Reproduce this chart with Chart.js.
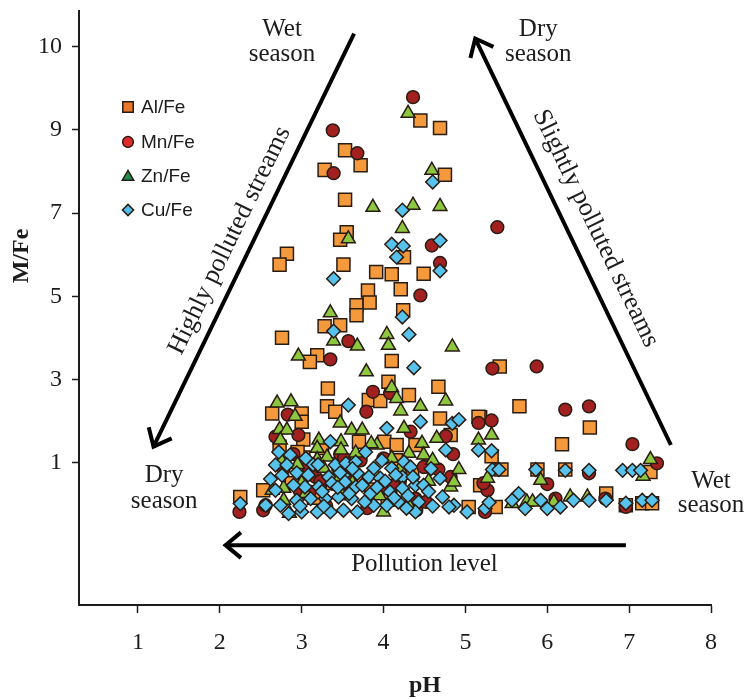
<!DOCTYPE html>
<html>
<head>
<meta charset="utf-8">
<script src="https://cdn.jsdelivr.net/npm/chart.js@4.4.1/dist/chart.umd.min.js"></script>
<style>
  html, body { margin: 0; padding: 0; background: #ffffff; }
  #wrap { width: 750px; height: 699px; }
</style>
</head>
<body>
<div id="wrap"><canvas id="chart" width="750" height="699"></canvas></div>
<script>
// Series names shown in the legend
const seriesNames = ['Al/Fe', 'Mn/Fe', 'Zn/Fe', 'Cu/Fe'];

// Samples as [pH, ratio] pairs
const alFe = [
  [4.45,9.23],[4.69,9.05],[3.53,8.51],[3.72,8.15],[3.28,8.04],[4.75,7.92],[3.53,7.32],[3.55,6.54],
  [3.47,6.36],[4.25,5.94],[2.82,6.02],[2.73,5.76],[3.51,5.76],[3.91,5.58],[4.10,5.53],[4.49,5.54],
  [3.81,5.14],[4.21,5.17],[3.67,4.78],[3.83,4.85],[3.67,4.54],[4.24,4.66],[3.28,4.28],[3.47,4.30],
  [2.76,4.00],[3.19,3.58],[3.10,3.42],[4.10,3.44],[5.42,3.31],[3.32,2.78],[4.06,2.94],[4.67,2.82],
  [4.31,2.62],[5.66,2.35],[6.52,1.84],[6.18,1.44],[5.18,2.09],[5.44,0.83],[5.88,0.83],[6.22,0.83],
  [7.26,0.77],[6.72,0.25],[6.96,-0.03],[7.16,0.02],[7.28,0.02],[3.31,2.35],[3.41,2.22],[2.64,2.18],
  [3.00,2.18],[3.00,1.98],[3.02,1.55],[2.73,1.38],[3.70,1.50],[3.02,1.12],[2.53,0.33],[2.25,0.17],
  [3.82,2.50],[3.96,2.48],[4.69,2.06],[4.82,1.66],[4.01,1.50],[4.16,1.42],[4.39,1.42],[5.16,2.10],
  [5.32,1.15],[5.18,0.45],[5.04,-0.07],[5.37,-0.07],[3.45,0.95],[3.75,0.55],[4.05,0.10],[4.35,0.75],
  [2.88,0.50],[3.15,0.15],[2.95,1.25],[3.38,0.50],[3.85,0.35],[4.15,1.05],[4.55,0.90],[3.25,1.35]
];
const mnFe = [
  [4.36,9.79],[3.38,8.99],[3.68,8.44],[3.39,7.96],[5.39,6.66],[4.59,6.22],[4.69,5.80],[4.45,5.02],
  [3.57,3.92],[3.35,3.48],[5.33,3.26],[5.87,3.31],[6.22,2.27],[6.51,2.35],[7.04,1.44],[5.32,2.01],
  [7.34,0.98],[6.51,0.74],[6.00,0.48],[5.27,0.33],[6.71,0.13],[6.96,-0.07],[3.87,2.70],[4.08,2.67],
  [2.83,2.15],[2.68,1.62],[2.96,1.66],[3.47,1.20],[3.52,1.10],[3.08,0.89],[3.17,0.65],[2.53,-0.15],
  [2.24,-0.19],[2.56,-0.03],[3.79,2.22],[4.33,1.74],[4.76,1.63],[4.85,1.20],[4.49,0.89],[4.67,0.83],
  [4.82,0.65],[3.96,0.33],[4.39,0.13],[5.16,1.95],[5.22,0.50],[6.10,0.13],[5.24,-0.19],[3.10,0.30],
  [3.60,0.70],[3.80,-0.10],[4.20,0.55],[2.90,1.20],[3.30,-0.05],[4.00,1.10],[4.40,-0.15],
  [2.78,0.85],[3.23,0.55],[3.55,0.40],[3.72,1.05],[4.12,0.45],[4.52,0.05],[2.98,0.30]
];
const znFe = [
  [4.30,9.40],[4.59,8.03],[3.87,7.14],[4.36,7.19],[4.69,7.16],[4.23,6.63],[3.57,6.38],[3.35,4.60],
  [4.04,4.08],[3.39,3.92],[3.68,3.80],[4.06,3.82],[4.84,3.78],[2.96,3.56],[3.79,3.18],[4.10,2.80],
  [2.70,2.43],[2.87,2.46],[2.92,2.11],[3.47,1.95],[3.61,1.78],[2.73,1.79],[2.82,1.78],[2.74,1.54],
  [3.21,1.54],[3.48,1.50],[3.19,1.34],[3.48,1.30],[3.19,1.07],[3.31,1.13],[3.66,1.23],[3.27,0.86],
  [2.78,0.38],[2.78,0.09],[2.64,0.33],[4.16,2.54],[4.45,2.35],[4.76,2.48],[4.21,2.24],[3.74,1.78],
  [4.25,1.82],[3.92,1.42],[4.47,1.46],[4.65,1.58],[4.10,1.10],[4.31,1.22],[4.49,1.18],[4.92,0.83],
  [4.82,0.41],[4.86,0.53],[4.00,-0.19],[5.16,1.54],[5.32,1.66],[5.27,0.62],[5.92,0.57],[5.57,0.01],
  [5.75,0.05],[5.82,0.05],[6.08,0.05],[6.28,0.17],[6.49,0.17],[7.26,1.07],[7.17,0.67],[3.00,0.50],
  [3.50,0.20],[3.90,0.70],[4.30,0.00],[2.85,-0.22],[2.75,1.05],[3.05,0.25],[3.40,0.62],[3.62,0.50],
  [3.95,0.20],[4.20,0.85],[4.55,0.55],[2.95,0.95],[3.85,1.45],[4.60,1.05]
];
const cuFe = [
  [4.60,7.75],[4.23,7.07],[4.10,6.25],[4.24,6.21],[4.16,5.94],[4.69,6.34],[3.39,5.42],[4.69,5.61],
  [4.23,4.50],[3.39,4.16],[4.31,4.08],[4.37,3.28],[3.57,2.38],[3.35,1.50],[4.45,1.98],[4.84,1.94],
  [4.92,2.03],[4.04,1.82],[4.76,1.30],[3.78,1.25],[2.86,1.18],[4.25,1.01],[4.33,0.89],[2.68,0.94],
  [2.82,0.94],[3.41,0.94],[3.54,0.98],[3.66,1.01],[3.88,0.86],[4.10,0.86],[2.76,0.69],[2.94,0.75],
  [3.33,0.65],[3.51,0.69],[3.68,0.74],[3.82,0.65],[3.96,0.62],[4.23,0.65],[4.69,0.62],[2.68,0.33],
  [3.04,0.41],[3.21,0.41],[3.37,0.50],[3.53,0.53],[3.66,0.41],[4.39,0.45],[4.49,0.45],[3.84,0.25],
  [4.08,0.29],[4.23,0.38],[2.56,-0.03],[2.74,-0.03],[2.94,0.09],[3.11,0.13],[3.29,0.13],[3.45,0.17],
  [3.61,0.13],[2.84,-0.23],[3.00,-0.19],[3.19,-0.19],[3.35,-0.19],[3.51,-0.15],[3.68,-0.19],[3.88,-0.03],
  [4.04,-0.03],[4.18,0.05],[4.43,0.05],[4.72,0.17],[4.86,-0.03],[5.02,-0.19],[4.39,-0.19],[4.80,-0.07],
  [2.25,0.01],[5.16,1.30],[5.32,1.28],[5.33,0.83],[5.41,0.83],[5.86,0.83],[6.22,0.81],[6.51,0.81],
  [6.92,0.81],[7.04,0.81],[7.14,0.81],[5.65,0.25],[5.73,-0.11],[5.92,0.09],[6.00,-0.11],[6.16,-0.07],
  [5.24,-0.11],[5.29,0.04],[5.57,0.09],[6.32,0.09],[6.51,0.09],[6.72,0.09],[6.96,0.02],[7.16,0.09],
  [7.28,0.09],[2.62,0.60],[2.90,0.45],[2.98,-0.05],[3.08,0.70],[3.14,0.95],[3.25,0.30],[3.27,-0.05],
  [3.44,0.40],[3.47,0.75],[3.58,0.25],[3.62,0.85],[3.74,0.45],[3.77,0.05],[3.92,0.40],[3.98,1.05],
  [4.02,0.55],[4.13,0.15],[4.15,0.70],[4.28,-0.10],[4.30,0.20],[4.36,0.65],[4.55,0.30],[4.60,-0.05],
  [4.58,0.85],[3.05,1.10],[2.72,1.25],[3.20,0.95]
];

// Axis ticks
const xTickValues = [1, 2, 3, 4, 5, 6, 7, 8];
const yTickValues = [1, 3, 5, 7, 9, 11];
const yTickLabels = ['1', '3', '5', '7', '9', '10'];

// Guide arrows [from, to] in axis units, head at "to"
const arrowPaths = [
  { from: [3.64, 11.32], to: [1.19, 1.38] },
  { from: [7.51, 1.42], to: [5.12, 11.20] },
  { from: [6.96, -0.99], to: [2.07, -0.99] }
];
// Free text placed in axis units (baseline positions)
const seasonTexts = [
  { lines: ['Wet', 'season'], x: 2.76, y: [11.27, 10.67] },
  { lines: ['Dry', 'season'], x: 5.89, y: [11.27, 10.67] },
  { lines: ['Dry', 'season'], x: 1.32, y: [0.53, -0.10] },
  { lines: ['Wet', 'season'], x: 8.00, y: [0.38, -0.19] },
  { lines: ['Pollution level'], x: 4.50, y: [-1.61] }
];
const slopeTexts = [
  { text: 'Highly polluted streams', x: 2.12, y: 6.34, along: 0 },
  { text: 'Slightly polluted streams', x: 6.59, y: 6.63, along: 1 }
];

const SERIF = '"Liberation Serif", "DejaVu Serif", serif';
const SANS = '"Liberation Sans", Arial, sans-serif';
const INK = '#1c1c1c';
const EDGE = '#2a1c12';

const styles = [
  { fill: '#F59A3C', shape: 'rect', r: 9.2, legendFill: '#E8772C' },
  { fill: '#A22120', shape: 'circle', r: 6.4, legendFill: '#E02B2B' },
  { fill: '#8DC63F', shape: 'triangle', r: 8.0, legendFill: '#1F8C52' },
  { fill: '#57C2EC', shape: 'rectRot', r: 6.9, legendFill: '#52BDE9' }
];
const allSeries = [alFe, mnFe, znFe, cuFe];

const datasets = allSeries.map((pts, i) => ({
  label: seriesNames[i],
  data: pts.map(p => ({ x: p[0], y: p[1] })),
  pointStyle: styles[i].shape,
  pointRadius: styles[i].r,
  pointHoverRadius: styles[i].r,
  backgroundColor: styles[i].fill,
  borderColor: EDGE,
  borderWidth: 1.5,
  order: 4 - i
}));

function drawArrow(ctx, x1, y1, x2, y2) {
  const ang = Math.atan2(y2 - y1, x2 - x1);
  const head = 20, spread = Math.PI * 0.22;
  ctx.save();
  ctx.strokeStyle = '#000';
  ctx.lineWidth = 4;
  ctx.lineCap = 'butt';
  ctx.lineJoin = 'miter';
  ctx.beginPath();
  ctx.moveTo(x1, y1);
  ctx.lineTo(x2, y2);
  ctx.stroke();
  ctx.beginPath();
  ctx.moveTo(x2 - head * Math.cos(ang - spread), y2 - head * Math.sin(ang - spread));
  ctx.lineTo(x2, y2);
  ctx.lineTo(x2 - head * Math.cos(ang + spread), y2 - head * Math.sin(ang + spread));
  ctx.stroke();
  ctx.restore();
}

function drawMarker(ctx, shape, cx, cy, r) {
  ctx.beginPath();
  if (shape === 'rect') {
    const h = r * Math.SQRT1_2;
    ctx.rect(cx - h, cy - h, 2 * h, 2 * h);
  } else if (shape === 'circle') {
    ctx.arc(cx, cy, r, 0, Math.PI * 2);
  } else if (shape === 'triangle') {
    for (let k = 0; k < 3; k++) {
      const a = -Math.PI / 2 + k * 2 * Math.PI / 3;
      const px = cx + r * Math.cos(a), py = cy + r * Math.sin(a);
      if (k === 0) ctx.moveTo(px, py); else ctx.lineTo(px, py);
    }
    ctx.closePath();
  } else {
    ctx.moveTo(cx - r, cy); ctx.lineTo(cx, cy - r); ctx.lineTo(cx + r, cy); ctx.lineTo(cx, cy + r);
    ctx.closePath();
  }
  ctx.fill();
  ctx.stroke();
}

const overlay = {
  id: 'overlay',
  afterDraw(chart) {
    const { ctx } = chart;
    const xs = chart.scales.x, ys = chart.scales.y;
    const px = v => xs.getPixelForValue(v);
    const py = v => ys.getPixelForValue(v);

    // arrows
    const arrowPx = arrowPaths.map(a => ({
      x1: px(a.from[0]), y1: py(a.from[1]), x2: px(a.to[0]), y2: py(a.to[1])
    }));
    arrowPx.forEach(a => drawArrow(ctx, a.x1, a.y1, a.x2, a.y2));

    // season labels
    ctx.save();
    ctx.fillStyle = INK;
    ctx.font = '25px ' + SERIF;
    ctx.textAlign = 'center';
    ctx.textBaseline = 'alphabetic';
    seasonTexts.forEach(t => t.lines.forEach((ln, k) => ctx.fillText(ln, px(t.x), py(t.y[k]))));

    // text running along the slanted arrows
    ctx.font = '26px ' + SERIF;
    ctx.textBaseline = 'middle';
    slopeTexts.forEach(t => {
      const a = arrowPx[t.along];
      const ang = Math.atan2(a.y1 - a.y2, a.x1 - a.x2);
      ctx.save();
      ctx.translate(px(t.x), py(t.y));
      ctx.rotate(ang);
      ctx.fillText(t.text, 0, 0);
      ctx.restore();
    });

    // axis titles
    ctx.font = 'bold 24px ' + SERIF;
    ctx.save();
    ctx.translate(22, 256);
    ctx.rotate(-Math.PI / 2);
    ctx.fillText('M/Fe', 0, 0);
    ctx.restore();
    ctx.fillText('pH', (chart.chartArea.left + chart.chartArea.right) / 2 + 30, 686);

    // legend
    const lx = 128, ty = [107, 142, 176, 210];
    ctx.font = '19px ' + SANS;
    ctx.textAlign = 'left';
    ctx.textBaseline = 'middle';
    seriesNames.forEach((name, i) => {
      ctx.fillStyle = styles[i].legendFill;
      ctx.strokeStyle = EDGE;
      ctx.lineWidth = 1.5;
      const lr = [7.4, 5.4, 6.6, 5.6][i];
      drawMarker(ctx, styles[i].shape, lx, ty[i] + (i === 2 ? 1 : 0), lr);
      ctx.fillStyle = INK;
      ctx.fillText(name, lx + 13, ty[i] + 1);
    });
    ctx.restore();
  }
};

new Chart(document.getElementById('chart'), {
  type: 'scatter',
  data: { datasets },
  options: {
    responsive: false,
    animation: false,
    devicePixelRatio: 1,
    layout: { padding: { left: 0, right: 39, top: 10, bottom: 0 } },
    plugins: { legend: { display: false }, tooltip: { enabled: false } },
    scales: {
      x: {
        type: 'linear',
        min: 0.28,
        max: 8,
        afterBuildTicks: s => { s.ticks = xTickValues.map(v => ({ value: v })); },
        afterFit: s => { s.height = 94; s.paddingLeft = 0; s.paddingRight = 0; },
        grid: { drawOnChartArea: false, drawTicks: true, tickLength: 8, tickColor: INK, tickWidth: 1.5 },
        border: { display: true, color: INK, width: 2 },
        ticks: { color: INK, font: { family: SERIF, size: 24 }, padding: 15, maxRotation: 0 }
      },
      y: {
        type: 'linear',
        min: -2.43,
        max: 11.87,
        afterBuildTicks: s => { s.ticks = yTickValues.map(v => ({ value: v })); },
        afterFit: s => { s.width = 79; s.paddingTop = 0; s.paddingBottom = 0; },
        grid: { drawOnChartArea: false, drawTicks: true, tickLength: 7, tickColor: INK, tickWidth: 1.5 },
        border: { display: true, color: INK, width: 2 },
        ticks: {
          color: INK,
          font: { family: SERIF, size: 24 },
          padding: 10,
          callback: v => { const k = yTickValues.indexOf(v); return k >= 0 ? yTickLabels[k] : ''; }
        }
      }
    }
  },
  plugins: [overlay]
});
</script>
</body>
</html>
